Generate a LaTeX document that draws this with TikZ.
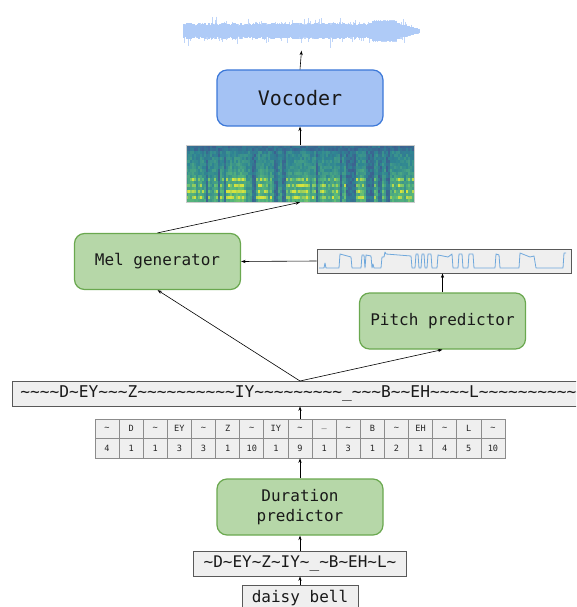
\documentclass[tikz,border=0pt]{standalone}
\usepackage{fontspec}
\newfontfamily\dmono{DejaVu Sans Mono}
\usetikzlibrary{arrows.meta,calc}
\definecolor{gfill}{HTML}{B6D7A8}
\definecolor{gline}{HTML}{6AA84F}
\definecolor{bfill}{HTML}{A4C2F4}
\definecolor{bline}{HTML}{3C78D8}
\definecolor{grfill}{HTML}{EFEFEF}
\definecolor{grline}{HTML}{595959}
\definecolor{tblline}{HTML}{8C8C8C}
\definecolor{wavec}{HTML}{AFCBF7}
\definecolor{pitchc}{HTML}{6FA8DC}
\definecolor{sp0}{HTML}{434F8F}
\definecolor{sp1}{HTML}{2F8593}
\definecolor{sp2}{HTML}{5BBA78}
\definecolor{sp3}{HTML}{D6E33E}
\newcommand\tld{\textasciitilde}
\begin{document}
\begin{tikzpicture}[x=1pt,y=-1pt,
  model/.style={rounded corners=10pt, line width=1.2pt, minimum width=166pt, minimum height=56pt, inner sep=0pt, font=\dmono\fontsize{16}{19.5}\selectfont, align=center, text=black!90},
  greenbox/.style={model, fill=gfill, draw=gline},
  bluebox/.style={model, fill=bfill, draw=bline, font=\dmono\fontsize{20}{24}\selectfont},
  graybox/.style={fill=grfill, draw=grline, line width=0.8pt, inner sep=0pt, font=\dmono\fontsize{16}{19}\selectfont, text=black!90},
  arr/.style={-{Stealth[length=4.5pt,width=3.2pt]}, line width=0.6pt},
  cell/.style={inner sep=0pt, font=\dmono\fontsize{8.6}{10}\selectfont, text=black!85}
]
\useasboundingbox (0,0) rectangle (576,607);
\clip (0,0) rectangle (576,607);

% ---------- waveform ----------
\pgfmathsetseed{7}
\foreach \x in {184,...,419}{
  \pgfmathsetmacro\f{\x>400 ? 1-(\x-400)/24 : 1}
  \pgfmathsetmacro\blk{(\x>372)*(\x<397)}
  \pgfmathsetmacro\a{\blk ? 10+rnd : \f*(6+12*rnd*rnd*rnd)}
  \pgfmathsetmacro\b{\blk ? 10+rnd : \f*(6+12*rnd*rnd*rnd)}
  \pgfmathsetmacro\c{\blk ? 10 : \f*(4+3*rnd)+1}
  \draw[wavec!80, line width=0.5pt] (\x,31-\a) -- (\x,31+\b);
  \draw[wavec, line width=1.1pt] (\x,31-\c) -- (\x,31+\c);
}
\node[minimum width=236pt, minimum height=38pt, inner sep=0pt] (wave) at (301.5,31.5) {};

% ---------- spectrogram ----------
\pgfmathsetseed{11}
\xdef\laste{0.55}
\foreach \i in {0,...,113}{
  \pgfmathsetmacro\e{0.5*\laste+0.5*rnd}
  \xdef\laste{\e}
  \foreach \j in {0,...,18}{
    \pgfmathsetmacro\val{(\e<0.4) ? 0.1+0.22*rnd : (0.22+0.45*\j/18*\e+0.18*rnd+(\j>10)*(mod(\j,2)==1)*(\e>0.5)*0.7*\e*rnd - (\j<2)*0.12)}
    \pgfmathsetmacro\val{max(0,min(0.999,\val))}
    \pgfmathtruncatemacro\seg{3*\val}
    \pgfmathtruncatemacro\p{100-100*(3*\val-\seg)}
    \ifcase\seg \def\cA{sp0}\def\cB{sp1}\or\def\cA{sp1}\def\cB{sp2}\or\def\cA{sp2}\def\cB{sp3}\else\def\cA{sp2}\def\cB{sp3}\fi
    \colorlet{curc}{\cA!\p!\cB}
    \fill[curc] (186+2*\i,145+3*\j) rectangle ++(2.1,3.1);
  }
}
\node[draw=black!20, line width=0.6pt, minimum width=228pt, minimum height=57pt, inner sep=0pt] (spec) at (300,173.5) {};

% ---------- boxes ----------
\node[bluebox] (voc) at (300,98) {Vocoder};
\node[greenbox] (mel) at (157.5,261.5) {Mel generator};
\node[greenbox] (pitchp) at (442.5,321) {Pitch predictor};
\node[greenbox] (dur) at (300,507) {Duration\\predictor};

% pitch plot
\node[fill=grfill, draw=grline, line width=0.8pt, minimum width=254pt, minimum height=24pt, inner sep=0pt] (pp) at (444,261) {};
\draw[pitchc, line width=0.8pt, line join=round] plot coordinates {
(319,268) (324,268) (325,263) (326,268) (339,268) (340,254) (351,257) (352,268)
(361,268) (362,255) (364,255) (365,268) (366,255) (371,256) (372,268) (373,264) (374,268)
(381,268) (382,257) (384,257) (385,252) (386,254) (411,256) (412,268)
(415,268) (416,254) (418,254) (419,268) (421,268) (422,254) (424,254) (425,268)
(427,268) (428,254) (431,254) (432,268) (437,268) (438,255) (448,257) (452,254) (453,268)
(458,268) (459,254) (462,254) (463,268) (468,268) (469,254) (473,254) (474,268)
(495,268) (496,254) (499,255) (500,268) (519,268) (520,253) (530,257) (534,256) (536,268)
(563,268) (564,253) (566,253)};

% long sequence
\node[graybox, anchor=west, minimum height=25pt, inner xsep=8pt, font=\dmono\fontsize{16.2}{19}\selectfont] (seq) at (12,393.5)
  {\detokenize{~~~~D~EY~~~Z~~~~~~~~~~IY~~~~~~~~~_~~~B~~EH~~~~L~~~~~~~~~~~~~~}};
\coordinate (split) at (300,381);

% table
\node[fill=grfill, draw=tblline, line width=0.7pt, minimum width=410pt, minimum height=39pt, inner sep=0pt] (tbl) at (300,438.5) {};
\foreach \k in {1,...,16}{
  \draw[tblline, line width=0.7pt] (95+\k*24.1176,419) -- (95+\k*24.1176,458);
}
\draw[tblline, line width=0.7pt] (95,438.5) -- (505,438.5);
\foreach \t [count=\k] in {\tld,D,\tld,EY,\tld,Z,\tld,IY,\tld,\_,\tld,B,\tld,EH,\tld,L,\tld}{
  \node[cell] (top\k) at (95+\k*24.1176-12.0588,428.7) {\t};
}
\foreach \t [count=\k] in {4,1,1,3,3,1,10,1,9,1,3,1,2,1,4,5,10}{
  \node[cell] (bot\k) at (95+\k*24.1176-12.0588,448.3) {\t};
}

% phonemes and input
\node[graybox, minimum height=25pt, inner xsep=10pt] (phon) at (300,563.5) {\detokenize{~D~EY~Z~IY~_~B~EH~L~}};
\node[graybox, minimum height=26pt, minimum width=116pt] (daisy) at (300,598) {daisy bell};

% ---------- arrows ----------
\draw[arr] (voc.north) -- (wave.south);
\draw[arr] (spec.north) -- (voc.south);
\draw[arr] (mel.north) -- (spec.south);
\draw[arr] (pp.west) -- (mel.east);
\draw[arr] (pitchp.north) -- (pitchp.north |- pp.south);
\draw[arr] (split) -- (mel.south);
\draw[arr] (split) -- (pitchp.south);
\draw[arr] (tbl.north) -- (tbl.north |- seq.south);
\draw[arr] (dur.north) -- (tbl.south);
\draw[arr] (phon.north) -- (dur.south);
\draw[arr] (daisy.north) -- (phon.south);
\end{tikzpicture}
\end{document}
